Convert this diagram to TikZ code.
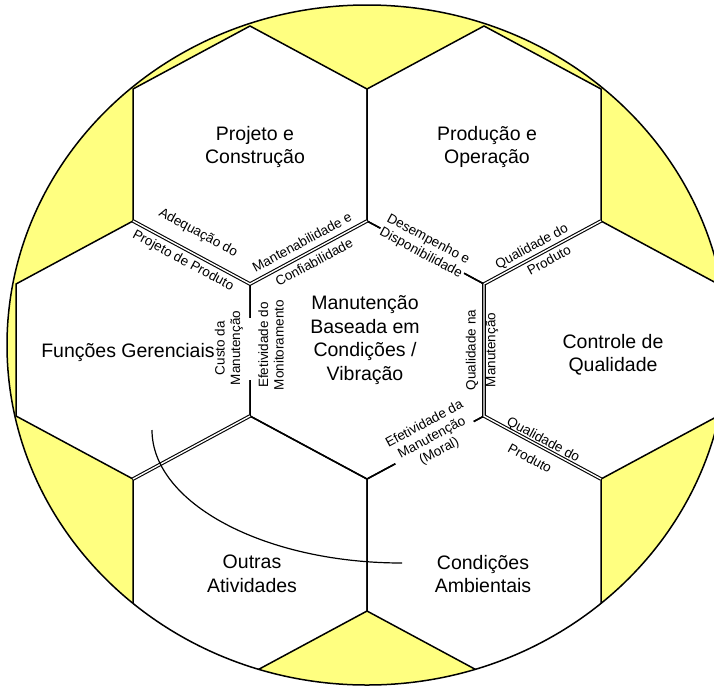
\documentclass[tikz,border=0pt]{standalone}
\usepackage{fontspec}
\setmainfont{Liberation Sans}
\definecolor{ballyellow}{RGB}{255,255,128}
\begin{document}
\begin{tikzpicture}[x=1pt,y=-1pt,
  outline/.style={line width=1.5pt, line join=miter},
  dbl/.style={line width=1.1pt, double=white, double distance=1.4pt},
  main/.style={align=center, font=\fontsize{19.5}{23.5}\selectfont, inner sep=0pt},
  tag/.style={align=center, font=\fontsize{13.5}{15.5}\selectfont, inner sep=0.5pt},
  cover/.style={tag, fill=white, inner sep=1.5pt},
  swing/.style={line width=1.2pt}
]
\useasboundingbox (0,0) rectangle (714,686);
\clip (0,0) rectangle (714,686);

% centres of the seven cells
\coordinate (P) at (250,155);
\coordinate (D) at (484,155);
\coordinate (F) at (133,350);
\coordinate (C) at (367,350);
\coordinate (Q) at (601,350);
\coordinate (O) at (250,545);
\coordinate (A) at (484,545);

% shared corners used by the double edges
\coordinate (v1) at (133,221);
\coordinate (v2) at (250,284);
\coordinate (v3) at (367,221);
\coordinate (v4) at (484,284);
\coordinate (v5) at (601,221);
\coordinate (v6) at (484,416);
\coordinate (v7) at (601,479);
\coordinate (v8) at (250,416);
\coordinate (v9) at (133,479);

% ball
\fill[ballyellow] (367,345) ellipse [x radius=360, y radius=340];
\begin{scope}
  \clip (367,345) ellipse [x radius=360, y radius=340];
  \foreach \c in {P,D,F,C,Q,O,A}
    \fill[white] (\c) ++(0,-129) -- ++(117,63) -- ++(0,132) -- ++(-117,63) -- ++(-117,-63) -- ++(0,-132) -- cycle;
  \foreach \c in {P,D,F,C,Q,O,A}
    \draw[outline] (\c) ++(0,-129) -- ++(117,63) -- ++(0,132) -- ++(-117,63) -- ++(-117,-63) -- ++(0,-132) -- cycle;
  % double borders
  \draw[dbl] (v1) -- (v2) -- (v3);
  \draw[dbl] (v4) -- (v5);
  \draw[dbl] (v4) -- (v6) -- (v7);
  \draw[dbl] (v9) -- (v8);
  % the left border of the centre cell is broken behind its labels
  \fill[white] (245,318) rectangle (255,380);
\end{scope}
\draw[line width=1.5pt] (367,345) ellipse [x radius=360, y radius=340];

% sweeping arc
\coordinate (arcA) at (152,430);
\coordinate (arcB) at (402,563);
\draw[swing] (arcA) .. controls (152,503) and (264,563) .. (arcB);

% cell titles
\node[main] (tP) at (255,147) {Projeto e\\Construção};
\node[main] (tD) at (487,147) {Produção e\\Operação};
\node[main] (tF) at (128,352) {Funções Gerenciais};
\node[main] (tC) at (365,340) {Manutenção\\Baseada em\\Condições /\\Vibração};
\node[main] (tQ) at (613,355) {Controle de\\Qualidade};
\node[main] (tO) at (252,574) {Outras\\Atividades};
\node[main] (tA) at (483,574) {Condições\\Ambientais};

% border labels
\node[tag, rotate=-28.3] (l1) at (198,233) {Adequação do};
\node[tag, rotate=-28.3] (l2) at (183,261) {Projeto de Produto};
\node[tag, rotate=28.3] (l3) at (302,242) {Mantenabilidade e};
\node[tag, rotate=28.3] (l4) at (314,262) {Confiabilidade};
\node[cover, rotate=-28.3] (l5) at (424.5,246.5) {Desempenho e\\Disponibilidade};
\node[tag, rotate=28.3] (l6) at (532,247) {Qualidade do};
\node[tag, rotate=28.3] (l7) at (549,260) {Produto};
\node[tag, rotate=90] (l8) at (472,350) {Qualidade na};
\node[tag, rotate=90] (l9) at (492,350) {Manutenção};
\node[cover, rotate=28.3] (l10) at (432,438) {Efetividade da\\Manutenção\\(Moral)};
\node[tag, rotate=-28.3] (l11) at (543,440) {Qualidade do};
\node[tag, rotate=-28.3] (l12) at (530,458) {Produto};
\node[tag, rotate=90] (l13) at (229,348) {Custo da\\Manutenção};
\node[tag, rotate=90] (l14) at (271,345) {Efetividade do\\Monitoramento};
\end{tikzpicture}
\end{document}
